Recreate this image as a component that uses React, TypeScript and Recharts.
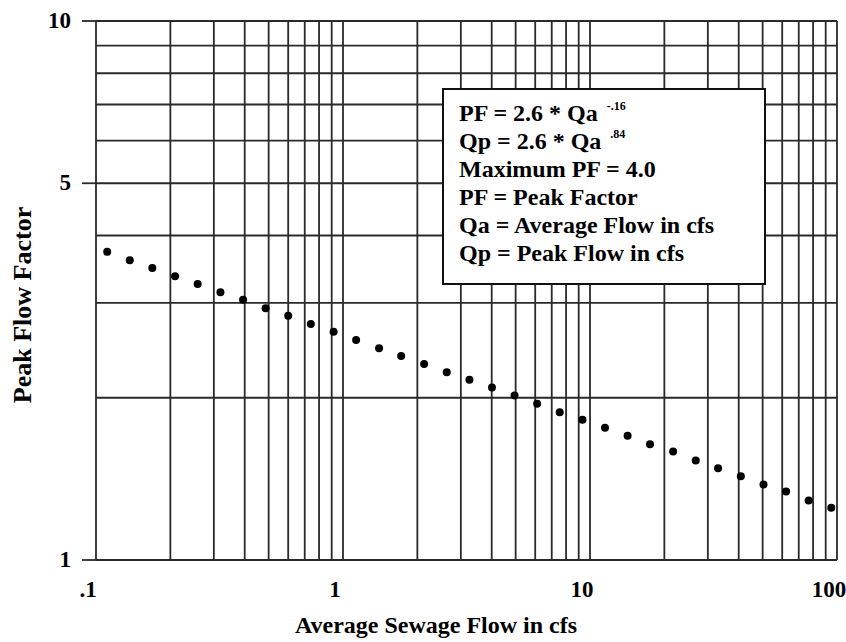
import { ScatterChart, Scatter, XAxis, YAxis, CartesianGrid } from 'recharts'

// average sewage flow (cfs)
const avgFlow = [
  0.111, 0.137, 0.169, 0.209, 0.258, 0.319, 0.394, 0.486, 0.600, 0.741, 0.916,
  1.13, 1.40, 1.72, 2.13, 2.63, 3.25, 4.01, 4.95, 6.11, 7.54, 9.32,
  11.5, 14.2, 17.5, 21.7, 26.8, 33.0, 40.8, 50.4, 62.2, 76.8, 94.8,
]

// peak flow factor for each dot
const peakFactor = [
  3.73, 3.60, 3.48, 3.36, 3.25, 3.14, 3.04, 2.93, 2.84, 2.74, 2.65,
  2.56, 2.47, 2.39, 2.31, 2.23, 2.16, 2.09, 2.02, 1.95, 1.88, 1.82,
  1.76, 1.70, 1.64, 1.59, 1.53, 1.48, 1.43, 1.38, 1.34, 1.29, 1.25,
]

const xGrid = [
  0.1, 0.2, 0.3, 0.4, 0.5, 0.6, 0.7, 0.8, 0.9,
  1, 2, 3, 4, 5, 6, 7, 8, 9,
  10, 20, 30, 40, 50, 60, 70, 80, 90, 100,
]
const yGrid = [1, 2, 3, 4, 5, 6, 7, 8, 9, 10]

const xLabels: Record<number, string> = { 0.1: '.1', 1: '1', 10: '10', 100: '100' }
const yLabels: Record<number, string> = { 1: '1', 5: '5', 10: '10' }

const noteLines = [
  { text: 'PF = 2.6 * Qa', sup: '-.16' },
  { text: 'Qp = 2.6 * Qa', sup: '.84' },
  { text: 'Maximum PF = 4.0' },
  { text: 'PF = Peak Factor' },
  { text: 'Qa = Average Flow in cfs' },
  { text: 'Qp = Peak Flow in cfs' },
]

const points = avgFlow.map((q, i) => ({ q, pf: peakFactor[i] }))

const FONT = '"Liberation Serif", "Times New Roman", serif'
const GRID = '#2a2a2a'
const txt = (size: number) => ({ fontFamily: FONT, fontWeight: 700, fontSize: size })

function XTick({ x, y, payload }: any) {
  const label = xLabels[payload.value]
  if (!label) return null
  return (
    <text x={x - 8} y={y + 37} textAnchor="middle" style={txt(23)} fill="#000">
      {label}
    </text>
  )
}

function YTick({ x, y, payload }: any) {
  const label = yLabels[payload.value]
  if (!label) return null
  return (
    <g>
      <line x1={x - 14} x2={x} y1={y} y2={y} stroke={GRID} strokeWidth={1.8} />
      <text x={x - 25} y={y + 7} textAnchor="end" style={txt(23)} fill="#000">
        {label}
      </text>
    </g>
  )
}

function NoteBox() {
  return (
    <g>
      <rect x={443} y={89} width={322} height={195} fill="#fff" stroke="#111" strokeWidth={2} />
      {noteLines.map((l, i) => (
        <text key={i} x={459} y={121 + i * 28} style={txt(24)} fill="#000">
          {l.text}
          {l.sup && (
            <tspan dx={9} dy={-11} style={{ fontSize: 12 }}>
              {l.sup}
            </tspan>
          )}
        </text>
      ))}
    </g>
  )
}

export default function App() {
  return (
    <div style={{ position: 'absolute', left: 0, top: 0, background: '#fff' }}>
      <ScatterChart width={846} height={642} margin={{ top: 21, right: 9, bottom: 0, left: 36 }}>
        <CartesianGrid stroke={GRID} strokeWidth={1.8} />
        <XAxis
          type="number"
          dataKey="q"
          scale="log"
          domain={[0.1, 100]}
          ticks={xGrid}
          interval={0}
          allowDataOverflow
          height={82}
          tickSize={0}
          tickMargin={0}
          tickLine={false}
          axisLine={false}
          tick={<XTick />}
        />
        <YAxis
          type="number"
          dataKey="pf"
          scale="log"
          domain={[1, 10]}
          ticks={yGrid}
          interval={0}
          allowDataOverflow
          width={60}
          tickSize={0}
          tickMargin={0}
          tickLine={false}
          axisLine={false}
          tick={<YTick />}
        />
        <Scatter
          data={points}
          isAnimationActive={false}
          shape={(p: any) => <circle cx={p.cx} cy={p.cy} r={4} fill="#000" />}
        />
        <NoteBox />
        <text x={436} y={633} textAnchor="middle" style={txt(24)} fill="#000">
          Average Sewage Flow in cfs
        </text>
        <text x={0} y={0} transform="translate(31,305) rotate(-90)" textAnchor="middle" style={txt(26)} fill="#000">
          Peak Flow Factor
        </text>
      </ScatterChart>
    </div>
  )
}
